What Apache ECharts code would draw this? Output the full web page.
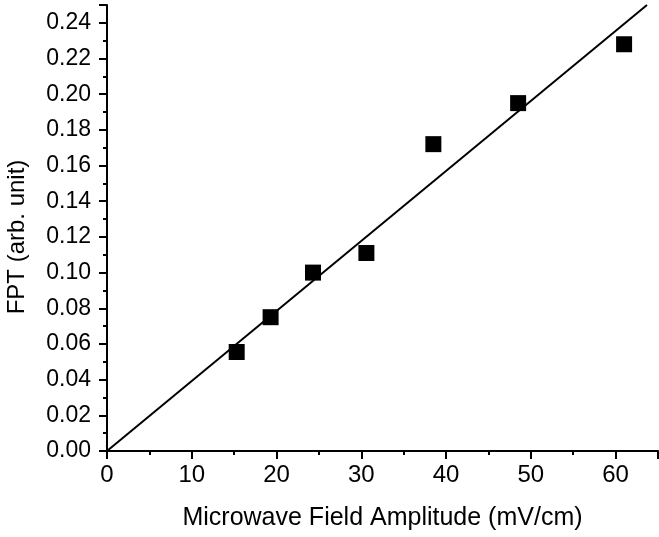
<!DOCTYPE html>
<html>
<head>
<meta charset="utf-8">
<script src="https://cdn.jsdelivr.net/npm/echarts@6/dist/echarts.min.js"></script>
<style>
  html, body { margin: 0; padding: 0; background: #fff; }
  #chart { width: 659px; height: 537px; }
</style>
</head>
<body>
<div id="chart"></div>
<script>
// measured points
var fieldAmp = [15.3, 19.3, 24.3, 30.6, 38.5, 48.5, 61.0];
var fpt = [0.0555, 0.075, 0.100, 0.111, 0.172, 0.195, 0.228];
// linear fit through origin, drawn up to the top of the axis
var fitX = [0, 63.7];
var fitY = [0, 0.25];

var font = 'Liberation Sans, Arial, sans-serif';

var points = fieldAmp.map(function (x, i) { return [x, fpt[i]]; });
var fitLine = fitX.map(function (x, i) { return [x, fitY[i]]; });

var option = {
    backgroundColor: '#fff',
    animation: false,
    grid: { left: 107, right: 1, top: 5, bottom: 86, outerBoundsMode: 'none', containLabel: false },
    xAxis: {
        type: 'value',
        min: 0, max: 65, interval: 10,
        name: 'Microwave Field Amplitude (mV/cm)',
        nameLocation: 'middle',
        nameGap: 55,
        nameTextStyle: { fontFamily: font, fontSize: 25, color: '#000' },
        axisLine: { onZero: false, lineStyle: { color: '#000', width: 2 } },
        axisTick: { show: true, length: 8, lineStyle: { color: '#000', width: 2 } },
        minorTick: { show: true, splitNumber: 2, length: 4, lineStyle: { color: '#000', width: 2 } },
        axisLabel: {
            fontFamily: font, fontSize: 24, color: '#000', margin: 12,
            showMaxLabel: false
        },
        splitLine: { show: false }
    },
    yAxis: {
        type: 'value',
        min: 0, max: 0.25, interval: 0.02,
        name: 'FPT (arb. unit)',
        nameLocation: 'middle',
        nameGap: 78,
        nameTextStyle: { fontFamily: font, fontSize: 24, color: '#000', padding: [0, 18, 0, 0] },
        axisLine: { show: true, onZero: false, lineStyle: { color: '#000', width: 2 } },
        axisTick: { show: true, length: 8, lineStyle: { color: '#000', width: 2 } },
        minorTick: { show: true, splitNumber: 2, length: 4, lineStyle: { color: '#000', width: 2 } },
        axisLabel: {
            fontFamily: font, fontSize: 23, color: '#000', margin: 16,
            showMaxLabel: false,
            formatter: function (v) { return v.toFixed(2); }
        },
        splitLine: { show: false }
    },
    series: [
        {
            type: 'line',
            data: fitLine,
            symbol: 'none',
            lineStyle: { color: '#000', width: 2 },
            z: 2
        },
        {
            type: 'scatter',
            data: points,
            symbol: 'rect',
            symbolSize: 16,
            itemStyle: { color: '#000', opacity: 1 },
            z: 3
        }
    ]
};

var myChart = echarts.init(document.getElementById('chart'));
myChart.setOption(option);
</script>
</body>
</html>
